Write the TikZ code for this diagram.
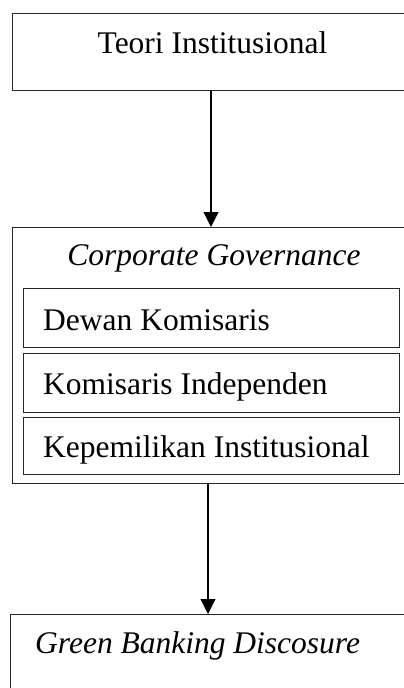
\documentclass[tikz,border=0pt]{standalone}
\usepackage{fontspec}
\setmainfont{Liberation Serif}
\usetikzlibrary{arrows.meta}
\begin{document}
\begin{tikzpicture}[x=1pt,y=-1pt,
  frame/.style={draw=black!85,line width=1.1pt},
  lbl/.style={inner sep=0pt,font=\fontsize{31.5}{36}\selectfont},
  flow/.style={line width=1.1pt,-{Triangle[width=15pt,length=15pt]}}]
\useasboundingbox (0,0) rectangle (404,688);
\clip (0,0) rectangle (404,688);

% top box: theory
\node[frame,inner sep=0pt,minimum width=410pt,minimum height=77pt,anchor=north west] (theory) at (12,13) {};
\node[lbl,anchor=base] (theoryT) at (212.5,53) {Teori Institusional};

% corporate governance group with its three indicators
\node[frame,inner sep=0pt,minimum width=410pt,minimum height=256pt,anchor=north west] (cg) at (12,227) {};
\node[lbl,anchor=base] (cgT) at (214,265) {\itshape Corporate Governance};
\node[frame,inner sep=0pt,minimum width=376pt,minimum height=59pt,anchor=north west] (dk) at (23,288) {};
\node[lbl,anchor=base west] (dkT) at (43,330) {Dewan Komisaris};
\node[frame,inner sep=0pt,minimum width=376pt,minimum height=59pt,anchor=north west] (ki) at (23,353) {};
\node[lbl,anchor=base west] (kiT) at (43,394) {Komisaris Independen};
\node[frame,inner sep=0pt,minimum width=376pt,minimum height=57pt,anchor=north west] (kp) at (23,417) {};
\node[lbl,anchor=base west] (kpT) at (43,457) {Kepemilikan Institusional};

% bottom box: disclosure
\node[frame,inner sep=0pt,minimum width=412pt,minimum height=90pt,anchor=north west] (gb) at (10,614) {};
\node[lbl,anchor=base west] (gbT) at (35,653) {\itshape Green Banking Discosure};

% connectors
\coordinate (a1) at (211,0);
\coordinate (a2) at (208,0);
\draw[flow] (a1 |- theory.south) -- (a1 |- cg.north);
\draw[flow] (a2 |- cg.south) -- (a2 |- gb.north);
\end{tikzpicture}
\end{document}
